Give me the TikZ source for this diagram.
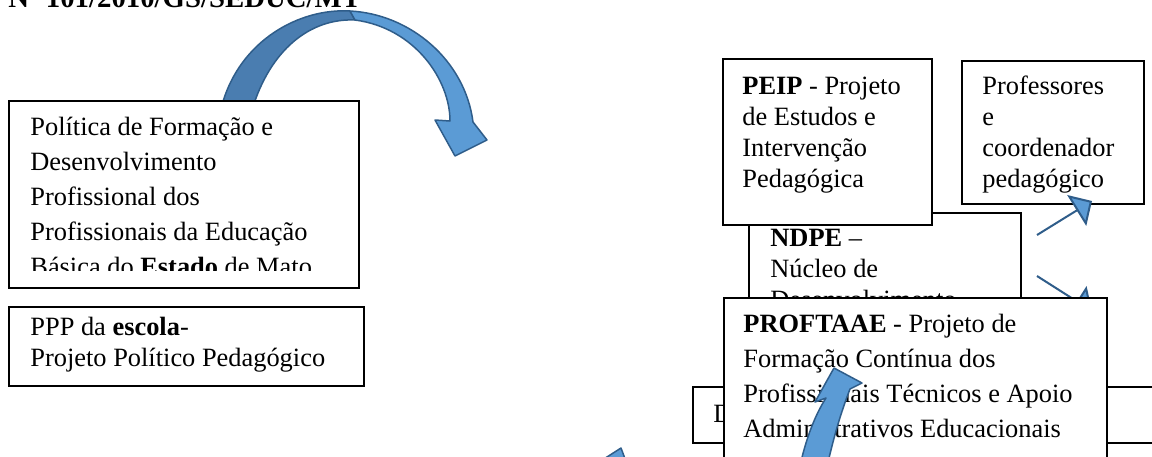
\documentclass[tikz,border=0pt]{standalone}
\usepackage{fontspec}
\setmainfont{Liberation Serif}
\usetikzlibrary{arrows.meta,positioning}
\definecolor{arrowlight}{HTML}{5B9BD5}
\definecolor{arrowback}{HTML}{4A7DB0}
\definecolor{arrowdark}{HTML}{2F5D8A}
\begin{document}
\begin{tikzpicture}[x=0.5pt,y=-0.5pt,
 box/.style={draw=black,line width=0.75pt,fill=white,inner sep=0pt,anchor=north west},
 txt/.style={inner sep=0pt,anchor=north west,align=left,font=\fontsize{13.2}{15.5}\selectfont},
 wide/.style={font=\fontsize{13.2}{17.5}\selectfont},
 blockarrow/.style={draw=arrowdark,line width=0.75pt,fill=arrowlight,line join=round},
 conn/.style={draw=arrowdark,line width=1pt,-{Triangle[length=9pt,width=18pt,fill=arrowlight]}}]
 \useasboundingbox (0,0) rectangle (1152,456);
 % title, only its lower half is on the page
 \node (title) at (8,7) [anchor=base west,inner sep=0pt,font=\fontsize{14.4}{16}\selectfont\bfseries] {Nº 101/2010/GS/SEDUC/MT};
 % curved arrow at the top
 \draw[blockarrow,fill=arrowback] (222,105) .. controls (240,40) and (300,8) .. (350,11) -- (355,20) .. controls (310,18) and (270,50) .. (252,110) -- cycle;
 \draw[blockarrow] (350,11) .. controls (410,14) and (465,60) .. (473,122) -- (487,140) -- (455,156) -- (435,120) -- (450,121) .. controls (450,80) and (415,28) .. (355,20) -- cycle;
 % left column
 \node (box 1) at (8,100) [box,minimum width=175pt,minimum height=93.5pt] {};
 \begin{scope}
 \clip (box 1.north west) rectangle ([yshift=9pt]box 1.south east);
 \node (txt 1) at (30,117) [txt,wide] {Política de Formação e\\Desenvolvimento\\Profissional dos\\Profissionais da Educação\\Básica do \textbf{Estado} de Mato};
 \end{scope}
 \node (box 2) at (8,306) [box,minimum width=177.5pt,minimum height=39.5pt] {};
 \node (txt 2) at (30,317) [txt] {PPP da \textbf{escola}-\\Projeto Político Pedagógico};
 % tip of an arrow at the bottom edge
 \draw[blockarrow] (596,464) -- (621,448) -- (627,464) -- cycle;
 % right column
 \node (box 7) at (692,386) [box,minimum width=239pt,minimum height=28pt] {};
 \node (txt 7) at (713,405) [txt] {D};
 \node (box 5) at (748,212) [box,minimum width=136pt,minimum height=79pt] {};
 \node (txt 5) at (770,229) [txt] {\textbf{NDPE} –\\Núcleo de\\Desenvolvimento};
 \node (box 3) at (722,58) [box,minimum width=104.5pt,minimum height=83pt] {};
 \node (txt 3) at (742,77) [txt] {\textbf{PEIP} - Projeto\\de Estudos e\\Intervenção\\Pedagógica};
 \node (box 4) at (961,60) [box,minimum width=91pt,minimum height=71.5pt] {};
 \node (txt 4) at (982,76) [txt] {Professores\\e\\coordenador\\pedagógico};
 \coordinate (a start) at (1037,235);
 \coordinate (a end) at (1092,201);
 \coordinate (b start) at (1037,276);
 \coordinate (b end) at (1092,311);
 \draw[conn] (a start) -- (a end);
 \draw[conn] (b start) -- (b end);
 \node (box 6) at (723,297) [box,minimum width=191.5pt,minimum height=91.5pt] {};
 \node (txt 6) at (743,314) [txt,wide] {\textbf{PROFTAAE} - Projeto de\\Formação Contínua dos\\Profissionais Técnicos e Apoio\\Administrativos Educacionais};
 % curved arrow over the last box
 \draw[blockarrow] (798,475) .. controls (805,440) and (815,415) .. (826,398) -- (815,402) -- (834,368) -- (862,383) -- (850,389) .. controls (838,420) and (832,445) .. (825,475) -- cycle;
\end{tikzpicture}
\end{document}
